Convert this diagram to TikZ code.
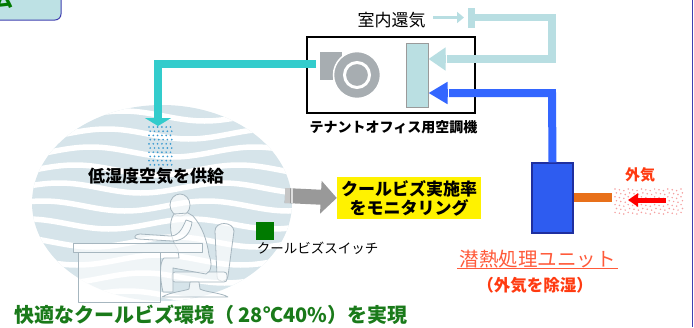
\documentclass[tikz,border=0pt]{standalone}
\usepackage{fontspec}
\setmainfont{Noto Sans CJK JP}
\usetikzlibrary{arrows.meta,calc}

\definecolor{supplyteal}{HTML}{33CCCC}
\definecolor{returnblue}{HTML}{B8DEE2}
\definecolor{oablue}{HTML}{3366FF}
\definecolor{unitfill}{HTML}{2E5CF0}
\definecolor{unitedge}{HTML}{1F2F9F}
\definecolor{oaorange}{HTML}{E8701A}
\definecolor{oared}{HTML}{FF0000}
\definecolor{labelred}{HTML}{FF3A10}
\definecolor{unitlabel}{HTML}{FF5A3A}
\definecolor{hazepink}{HTML}{F4A0A0}
\definecolor{sprayblue}{HTML}{3A9AD0}
\definecolor{fangray}{HTML}{A7ADB1}
\definecolor{coilfill}{HTML}{BADFE2}
\definecolor{coiledge}{HTML}{9A9A9A}
\definecolor{roomfill}{HTML}{D6E4EA}
\definecolor{figedge}{HTML}{A6B6BF}
\definecolor{okgreen}{HTML}{1A7A1A}
\definecolor{switchgreen}{HTML}{007A00}
\definecolor{tabfill}{HTML}{BDE1E4}
\definecolor{tabedge}{HTML}{4040B0}
\definecolor{monarrow}{HTML}{999999}

\newcommand\fsz[1]{\fontsize{#1}{#1}\selectfont}

\tikzset{
  duct/.style={line width=#1, line cap=butt, line join=miter},
  acbox/.style={draw=black, line width=2pt, fill=white, minimum width=168pt, minimum height=76pt, inner sep=0pt},
  coilbox/.style={draw=coiledge, line width=1pt, fill=coilfill, minimum width=22pt, minimum height=64pt, inner sep=0pt},
  unitbox/.style={draw=unitedge, line width=1.2pt, fill=unitfill, minimum width=41pt, minimum height=70pt, inner sep=0pt},
  plainlabel/.style={inner sep=0pt, text=black},
  sketchfig/.style={fill=white, fill opacity=0.65, draw=figedge, line width=0.8pt, line join=round},
}

\begin{document}
\begin{tikzpicture}[x=1pt,y=-1pt]
\useasboundingbox (0,0) rectangle (694,327);
\clip (0,0) rectangle (694,327);

% heading tab in the top-left corner
\draw[tabedge, fill=tabfill, line width=1pt, rounded corners=6pt] (-12,-12) rectangle (61,20);
\node[text=switchgreen, font=\bfseries\fsz{20}, inner sep=0pt] (ttl) at (4,0) {ム};

% right frame line
\draw[tabedge, line width=1.5pt] (692.5,0) -- (692.5,327);

% ---------- office room: striped disc ----------
\fill[roomfill] (162,203) ellipse [x radius=130pt, y radius=98pt];
\begin{scope}
  \clip (162,203) ellipse [x radius=130pt, y radius=98pt];
  \foreach \k in {0,...,10}
    \draw[white, line width=5.5pt]
      plot[domain=25:300, samples=70, smooth] (\x, {116+18*\k + 5*sin(\x*2.2 + \k*35)});
\end{scope}

% chair
\draw[sketchfig] (215,231) .. controls (215,221) and (233,221) .. (234,231)
  -- (228,276) .. controls (227,283) and (217,283) .. (217,276) -- cycle;
\draw[sketchfig, rounded corners=3pt] (172,272) rectangle (227,282);
\draw[sketchfig] (190,282) -- (199,282) -- (200,289)
  .. controls (205,292) and (222,293) .. (228,297) -- (162,297)
  .. controls (170,292) and (185,291) .. (189,289) -- cycle;

% seated person
\draw[sketchfig] (180,205) ellipse [x radius=10pt, y radius=11pt];
\draw[sketchfig] (174,214) .. controls (168,222) and (170,238) .. (178,250)
  -- (179,258) -- (164,258) .. controls (159,262) and (160,280) .. (163,292)
  -- (173,292) -- (173,268) -- (206,274) .. controls (212,272) and (212,262) .. (209,255)
  .. controls (207,240) and (202,226) .. (193,216) -- (188,213) -- cycle;

% desk
\draw[sketchfig] (78,252) rectangle (160,302);
\draw[sketchfig] (73,243) rectangle (202,252);

% arm resting on the desk
\draw[sketchfig] (186,220) .. controls (182,230) and (178,236) .. (170,236)
  -- (140,234) .. controls (134,234) and (133,239) .. (138,239)
  -- (172,241) .. controls (185,241) and (191,232) .. (192,222) -- cycle;

% ---------- air handling unit ----------
\node[acbox] (ac) at (391,75) {};
\node[coilbox] (coil) at (417,75) {};
% fan
\fill[fangray] (320,52) rectangle (342,80);
\draw[white, line width=1.5pt, fill=fangray] (357,75) circle (23.5pt);
\draw[white, line width=3pt, fill=fangray] (357,75) circle (12.5pt);
\coordinate (fanout) at (316,64);

\node[plainlabel, font=\bfseries\fsz{14}] (aclabel) at (393.5,127) {テナントオフィス用空調機};

% return air
\node[plainlabel, font=\fsz{17}] (ralabel) at (391.5,20) {室内還気};
\fill[returnblue] (468,8) rectangle (475,28);
\coordinate (rastart) at (433,17.5);
\coordinate (rabar) at (468,17.5);
\draw[returnblue, line width=3.5pt, -{Triangle[width=11pt,length=7pt]}] (rastart) -- ([xshift=-4pt]rabar);
\coordinate (raknee1) at (552,17.5);
\coordinate (raknee2) at (552,59);
\draw[returnblue, duct=7.5pt, -{Triangle[width=22pt,length=17pt]}]
  (475,17.5) -- (raknee1) -- (raknee2) -- (coil.east |- raknee2);
\draw[white, line width=1.5pt] (446.5,53) -- (446.5,66);

% ---------- latent heat unit ----------
\node[unitbox] (unit) at (552.5,198) {};
\coordinate (oaknee) at (552,93);
\draw[oablue, duct=8pt, -{Triangle[width=21pt,length=19pt]}]
  (unit.north) -- (oaknee) -- (coil.east |- oaknee);
\draw[white, line width=1.5pt] (448.5,87) -- (448.5,100);

\node[inner sep=0pt, font=\fsz{19.5}, text=unitlabel] (lat) at (537.5,259) {潜熱処理ユニット};
\draw[unitlabel, line width=0.8pt] (457,268.5) -- (618,268.5);
\node[inner sep=0pt, font=\bfseries\fsz{16.5}, text=labelred] (latsub) at (535,285) {（外気を除湿）};

% outside air intake
\coordinate (oaend) at (612,197.5);
\draw[oaorange, line width=9pt] (unit.east |- oaend) -- (oaend);
\foreach \r in {0,...,6}
  \foreach \c in {0,...,15}
    \fill[hazepink] ({615+4.4*\c + 1.4*mod(\r,2)}, {189+3.9*\r + 0.8*mod(\c,3)}) circle (0.85pt);
\coordinate (oatail) at (666,200);
\coordinate (oatip) at (628,200);
\draw[oared, line width=5pt, -{Triangle[width=13pt,length=10pt]}] (oatail) -- (oatip);
\node[inner sep=0pt, font=\bfseries\fsz{15}, text=labelred] (oalabel) at (640,175) {外気};

% ---------- supply air into the room ----------
\coordinate (sacorner) at (158,64);
\coordinate (saend) at (158,126);
\foreach \r in {0,...,9}
  \foreach \c in {0,...,5}
    \fill[sprayblue] ({149+4.3*\c + 1.2*mod(\r,2)}, {127+4.2*\r}) circle (0.95pt);
\draw[supplyteal, duct=8pt, -{Triangle[width=26pt,length=8pt]}]
  (fanout) -- (sacorner) -- (saend);

\node[plainlabel, font=\bfseries\fsz{17}] (supply) at (156,176) {低湿度空気を供給};

% ---------- monitoring ----------
\node[fill=yellow, minimum width=144pt, minimum height=42pt, inner sep=0pt, align=center,
      font=\bfseries\fontsize{17}{19}\selectfont] (mon) at (409,198) {クールビズ実施率\\をモニタリング};
\coordinate (monstart) at (285,195.5);
\draw[monarrow, line width=15pt, -{Triangle[width=32pt,length=16pt]}] (monstart) -- (mon.west);
\fill[gray!45] (285,188) rectangle (290,203);
\fill[gray!25] (291,188) rectangle (292.5,203);

\node[fill=switchgreen, minimum size=18pt, inner sep=0pt] (switch) at (265,230.5) {};
\node[plainlabel, font=\fsz{13.5}] (swlabel) at (317.5,248) {クールビズスイッチ};

% ---------- comfort statement ----------
\node[inner sep=0pt, anchor=west, font=\bfseries\fsz{20}, text=okgreen] (comfort) at (14,315)
  {快適なクールビズ環境（ 28℃40\%）を実現};

\end{tikzpicture}
\end{document}
